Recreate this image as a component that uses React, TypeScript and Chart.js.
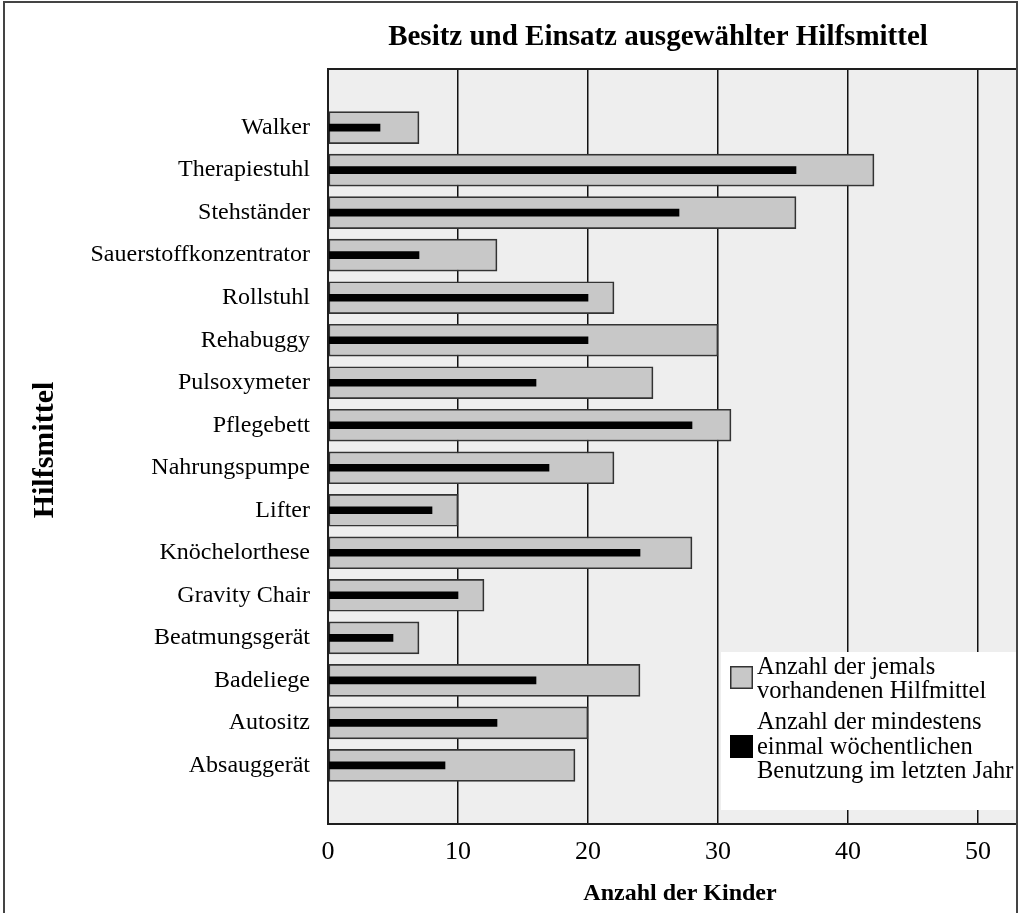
import React, { useEffect, useRef } from 'react';
import { Chart, registerables } from 'chart.js';

Chart.register(...registerables);

const categories = [
  'Walker',
  'Therapiestuhl',
  'Stehständer',
  'Sauerstoffkonzentrator',
  'Rollstuhl',
  'Rehabuggy',
  'Pulsoxymeter',
  'Pflegebett',
  'Nahrungspumpe',
  'Lifter',
  'Knöchelorthese',
  'Gravity Chair',
  'Beatmungsgerät',
  'Badeliege',
  'Autositz',
  'Absauggerät',
];
const everOwned = [7, 42, 36, 13, 22, 30, 25, 31, 22, 10, 28, 12, 7, 24, 20, 19];
const weeklyUsed = [4, 36, 27, 7, 20, 20, 16, 28, 17, 8, 24, 10, 5, 16, 13, 9];
const xTicks = [0, 10, 20, 30, 40, 50];

const chartTitle = 'Besitz und Einsatz ausgewählter Hilfsmittel';
const xTitle = 'Anzahl der Kinder';
const yTitle = 'Hilfsmittel';
const legendEver = ['Anzahl der jemals', 'vorhandenen Hilfmittel'];
const legendWeekly = ['Anzahl der mindestens', 'einmal wöchentlichen', 'Benutzung im letzten Jahr'];

const FONT = "'Liberation Serif', 'Times New Roman', serif";

const decor = {
  id: 'decor',
  beforeDraw(chart: any) {
    const { ctx, chartArea: a } = chart;
    ctx.save();
    ctx.fillStyle = '#eeeeee';
    ctx.fillRect(a.left, a.top, a.right - a.left, a.bottom - a.top);
    ctx.restore();
  },
  afterDatasetsDraw(chart: any) {
    const { ctx, chartArea: a } = chart;
    ctx.save();
    // legend box
    const lx = a.left + 393;
    const ly = a.bottom - 172;
    ctx.fillStyle = '#ffffff';
    ctx.fillRect(lx, ly, a.right - lx, 158);
    // swatches
    ctx.fillStyle = '#c8c8c8';
    ctx.fillRect(730, 666, 23, 23);
    ctx.strokeStyle = '#333333';
    ctx.lineWidth = 1.5;
    ctx.strokeRect(730.75, 666.75, 21.5, 21.5);
    ctx.fillStyle = '#000000';
    ctx.fillRect(730, 735, 23, 23);
    // legend text
    ctx.font = `24.5px ${FONT}`;
    ctx.textAlign = 'left';
    ctx.textBaseline = 'middle';
    ctx.fillStyle = '#000';
    legendEver.forEach((t, i) => ctx.fillText(t, 757, 668 + i * 24));
    legendWeekly.forEach((t, i) => ctx.fillText(t, 757, 723 + i * 24.5));
    // plot frame
    ctx.strokeStyle = '#1e1e1e';
    ctx.lineWidth = 2;
    ctx.strokeRect(a.left, a.top, a.right - a.left, a.bottom - a.top);
    ctx.restore();
  },
  afterDraw(chart: any) {
    const { ctx } = chart;
    ctx.save();
    ctx.fillStyle = '#000';
    ctx.textAlign = 'center';
    ctx.textBaseline = 'middle';
    ctx.font = `bold 29px ${FONT}`;
    ctx.fillText(chartTitle, 658, 38);
    ctx.font = `bold 24px ${FONT}`;
    ctx.fillText(xTitle, 680, 894);
    ctx.save();
    ctx.translate(45, 450);
    ctx.rotate(-Math.PI / 2);
    ctx.font = `bold 30px ${FONT}`;
    ctx.fillText(yTitle, 0, 0);
    ctx.restore();
    // outer frame
    ctx.strokeStyle = '#444';
    ctx.lineWidth = 2;
    ctx.beginPath();
    ctx.moveTo(4, 913);
    ctx.lineTo(4, 2);
    ctx.lineTo(1017, 2);
    ctx.lineTo(1017, 913);
    ctx.stroke();
    ctx.restore();
  },
};

export default function App() {
  const ref = useRef<HTMLCanvasElement | null>(null);

  useEffect(() => {
    if (!ref.current) return;
    const chart = new Chart(ref.current, {
      type: 'bar',
      data: {
        datasets: [
          {
            label: 'Anzahl der mindestens einmal wöchentlichen Benutzung im letzten Jahr',
            data: weeklyUsed.map((v, i) => ({ x: v, y: i })),
            backgroundColor: '#000000',
            borderWidth: 0,
            barThickness: 7,
            grouped: false,
            order: 1,
          } as any,
          {
            label: 'Anzahl der jemals vorhandenen Hilfmittel',
            data: everOwned.map((v, i) => ({ x: v, y: i })),
            backgroundColor: '#c8c8c8',
            borderColor: '#333333',
            borderWidth: 1.7,
            borderSkipped: false,
            barThickness: 32,
            grouped: false,
            order: 2,
          } as any,
        ],
      },
      options: {
        indexAxis: 'y',
        responsive: false,
        animation: false,
        layout: { padding: { top: 69, right: 7, left: 0, bottom: 0 } },
        plugins: {
          legend: { display: false },
          tooltip: { enabled: false },
          title: { display: false },
        },
        scales: {
          x: {
            type: 'linear',
            position: 'bottom',
            min: 0,
            max: 53,
            afterFit: (s: any) => {
              s.height = 89;
            },
            afterBuildTicks: (s: any) => {
              s.ticks = xTicks.map((v) => ({ value: v }));
            },
            grid: { color: '#111111', lineWidth: 1.5, drawTicks: false },
            border: { display: false },
            ticks: {
              font: { family: FONT, size: 26 },
              color: '#000',
              padding: 13,
            },
          },
          y: {
            type: 'linear',
            offset: false,
            min: -1.38,
            max: 16.38,
            reverse: true,
            afterFit: (s: any) => {
              s.width = 328;
            },
            afterBuildTicks: (s: any) => {
              s.ticks = categories.map((_, i) => ({ value: i }));
            },
            grid: { display: false, drawTicks: false, offset: false },
            border: { display: false },
            ticks: {
              autoSkip: false,
              callback: (v: any) => categories[v as number],
              font: { family: FONT, size: 24 },
              color: '#000',
              padding: 18,
            },
          },
        },
      } as any,
      plugins: [decor],
    });
    return () => chart.destroy();
  }, []);

  return (
    <div style={{ position: 'fixed', left: 0, top: 0, width: 1024, height: 913, background: '#fff' }}>
      <canvas ref={ref} width={1024} height={913} />
    </div>
  );
}
